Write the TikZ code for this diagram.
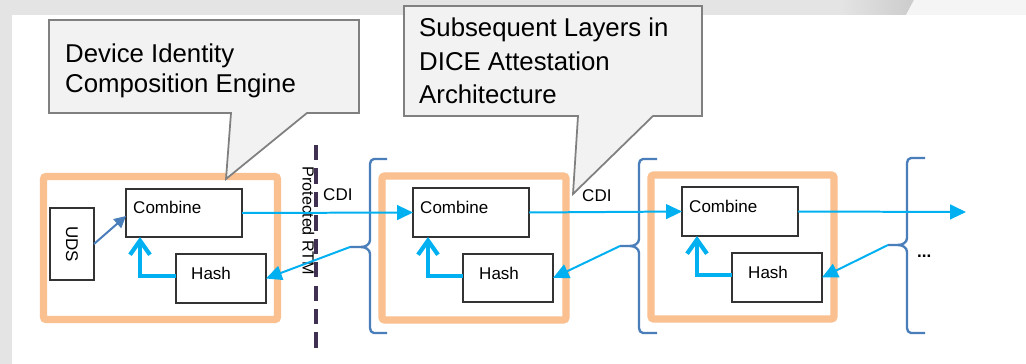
\documentclass[tikz,border=0pt]{standalone}
\usepackage{fontspec}
\setmainfont{Liberation Sans}
\usetikzlibrary{arrows.meta,calc}
\definecolor{orng}{HTML}{FAC090}
\definecolor{cyanb}{HTML}{00B0F0}
\definecolor{steel}{HTML}{4A7EBB}
\definecolor{purp}{HTML}{403152}
\definecolor{callfill}{HTML}{F2F2F2}
\definecolor{callline}{HTML}{808080}
\definecolor{bgstrip}{HTML}{E4E4E4}
\begin{document}
\begin{tikzpicture}[x=0.03cm,y=-0.03cm,
  sz/.style 2 args={minimum width={#1*0.03cm}, minimum height={#2*0.03cm}},
  layerbox/.style={draw=orng, line width=6pt, rounded corners=2pt, inner sep=0pt, outer sep=0pt, anchor=north west},
  fnbox/.style={draw=black!80, line width=0.9pt, fill=white, inner sep=0pt, outer sep=0pt, anchor=north west},
  lbl/.style={font=\fontsize{14.5}{17}\selectfont, inner sep=0pt, anchor=base west},
  big/.style={font=\fontsize{22}{26}\selectfont, inner sep=0pt, anchor=base west},
  flow/.style={draw=cyanb, line width=1.7pt, -{Triangle[length=13.5pt,width=12.5pt]}},
  feedback/.style={draw=cyanb, line width=3.6pt, -{Straight Barb[length=12pt,width=17pt]}},
  udsarrow/.style={draw=steel, line width=1.7pt, -{Triangle[length=10pt,width=10pt]}},
  bracket/.style={draw=steel, line width=2pt},
  rtmline/.style={draw=purp, line width=3pt, dash pattern=on 13pt off 7pt},
  callout/.style={draw=callline, fill=callfill, line width=1.5pt, line join=miter}
]
\useasboundingbox (0,0) rectangle (1026,364);
% background
\fill[bgstrip] (0,0) rectangle (1026,364);
\shade[left color=bgstrip, right color=gray!40] (840,0) -- (914,0) -- (906,15) -- (840,15) -- cycle;
\fill[white!92!gray] (914,0) -- (1026,0) -- (1026,15) -- (906,15) -- cycle;
\fill[white] (12,15) rectangle (1026,364);

% layer boxes
\node[layerbox, sz={234}{143}] (L1) at (43.5,176.5) {};
\node[layerbox, sz={184}{144}] (L2) at (382,176) {};
\node[layerbox, sz={183}{144}] (L3) at (651,175) {};

% protected RTM boundary
\coordinate (rtmtop) at (316,145);
\coordinate (rtmbot) at (316,352);
\draw[rtmline] (rtmtop) -- (rtmbot);
\node[font=\fontsize{13.8}{16}\selectfont, inner sep=0pt, rotate=-90] (rtm) at (308.5,221) {Protected RTM};

% brackets
\draw[bracket] (387,159) -- (374,159) to[out=180,in=90] (370,164) -- (370,240) to[out=-90,in=0] (361,247) -- (350,247) coordinate (bt1);
\draw[bracket] (361,247) to[out=0,in=90] (370,254) -- (370,328) to[out=-90,in=180] (374,333) -- (387,333);
\draw[bracket] (657,159) -- (643,159) to[out=180,in=90] (639,164) -- (639,239) to[out=-90,in=0] (630,246) -- (620,246) coordinate (bt2);
\draw[bracket] (630,246) to[out=0,in=90] (639,253) -- (639,328) to[out=-90,in=180] (643,333) -- (657,333);
\draw[bracket] (925,158) -- (911,158) to[out=180,in=90] (907,163) -- (907,238) to[out=-90,in=0] (898,245) -- (888,245) coordinate (bt3);
\draw[bracket] (898,245) to[out=0,in=90] (907,252) -- (907,328) to[out=-90,in=180] (911,333) -- (925,333);

% function boxes
\node[fnbox, sz={44}{72}] (u1) at (50,208) {};
\node[font=\fontsize{14.5}{17}\selectfont, inner sep=0pt, rotate=-90] (u1t) at (u1.center) {UDS};
\node[fnbox, sz={116}{48}] (c1) at (126,189) {};
\node[fnbox, sz={90}{49}] (h1) at (176,254) {};
\node[fnbox, sz={116}{49}] (c2) at (413,188) {};
\node[fnbox, sz={90}{48}] (h2) at (463,254) {};
\node[fnbox, sz={116}{49}] (c3) at (682,187) {};
\node[fnbox, sz={90}{49}] (h3) at (732,253) {};

\node[lbl] (c1t) at (133,213) {Combine};
\node[lbl] (h1t) at (191,279) {Hash};
\node[lbl] (c2t) at (420,213) {Combine};
\node[lbl] (h2t) at (479,279) {Hash};
\node[lbl] (c3t) at (689,212) {Combine};
\node[lbl] (h3t) at (748,278) {Hash};

\node[lbl] (cdi1) at (323,200) {CDI};
\node[lbl] (cdi2) at (582,201) {CDI};
\node[lbl, font=\fontsize{14.5}{17}\selectfont\bfseries] (dots) at (917,257) {...};

% connectors
\draw[udsarrow] (u1.east) -- ($(c1.west)+(0,3)$);
\draw[flow] (c1.east) -- (c2.west);
\draw[flow] (c2.east) -- (c3.west);
\coordinate (out3) at (966,212);
\draw[flow] (c3.east) -- (out3);
\draw[flow] (bt1) -- (h1.east);
\draw[flow] (bt2) -- (h2.east);
\draw[flow] (bt3) -- (h3.east);
\draw[feedback] ($(h1.west)+(0,-2.5)$) -| ($(c1.south west)+(14,0)$);
\draw[feedback] ($(h2.west)+(0,-2)$) -| ($(c2.south west)+(15,0)$);
\draw[feedback] ($(h3.west)+(0,-2.5)$) -| ($(c3.south west)+(15,0)$);

% callouts
\draw[callout] (49,20) -- (359,20) -- (359,113) -- (307,113) -- (226,179) -- (231,113) -- (49,113) -- cycle;
\node[big] (dice1) at (65,62) {Device Identity};
\node[big] (dice2) at (65,92) {Composition Engine};
\draw[callout] (404,6) -- (702,6) -- (702,116) -- (653,116) -- (573,194) -- (578,116) -- (404,116) -- cycle;
\node[big] (sub1) at (419,36) {Subsequent Layers in};
\node[big] (sub2) at (419,70) {DICE Attestation};
\node[big] (sub3) at (419,103) {Architecture};
\end{tikzpicture}
\end{document}
